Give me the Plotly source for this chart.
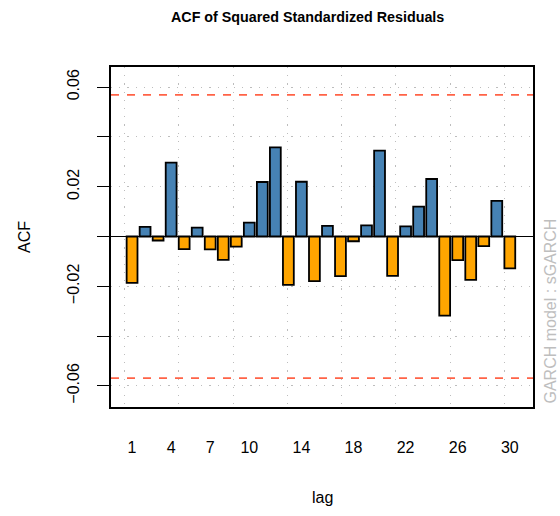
import plotly.graph_objects as go

lags = list(range(1, 31))
acf = [-0.0186, 0.0039, -0.0016, 0.0297, -0.0051, 0.0036, -0.0052, -0.0094, -0.0041, 0.0056,
       0.0219, 0.0358, -0.0194, 0.0220, -0.0179, 0.0043, -0.0159, -0.0019, 0.0045, 0.0345,
       -0.0158, 0.0041, 0.0120, 0.0231, -0.0318, -0.0095, -0.0174, -0.0039, 0.0143, -0.0128]
conf = 0.0569
x_labels = [1, 4, 7, 10, 14, 18, 22, 26, 30]
y_ticks = [-0.06, -0.04, -0.02, 0.0, 0.02, 0.04, 0.06]
y_text = ["\u22120.06", "", "\u22120.02", "", "0.02", "", "0.06"]
title = "ACF of Squared Standardized Residuals"
side_text = "GARCH model : sGARCH"

FONT = "Liberation Sans, Arial, sans-serif"
xr = [-0.617, 31.78]
yr = [-0.0685, 0.0681]
# R barplot grid positions (every 5 barplot units -> lag units)
grid_x = [(b - 0.7) / 1.2 + 1 for b in range(0, 40, 5)]
GRID = "#bdbdbd"
GDASH = "1.2px,7px"

colors = ["steelblue" if v > 0 else "orange" for v in acf]

fig = go.Figure()
fig.add_trace(go.Bar(x=lags, y=acf, marker=dict(color=colors, line=dict(color="black", width=1.8)),
                     width=0.833, showlegend=False))
for s in (1, -1):
    fig.add_trace(go.Scatter(x=xr, y=[s * conf, s * conf], mode="lines",
                             line=dict(color="tomato", dash="8px,8px", width=1.8), showlegend=False))
fig.add_trace(go.Scatter(x=xr, y=[0, 0], mode="lines", line=dict(color="black", width=1.2), showlegend=False))
# invisible trace for grid axis
fig.add_trace(go.Scatter(x=xr, y=[0, 0], xaxis="x2", mode="lines", line=dict(width=0),
                         opacity=0, showlegend=False, hoverinfo="skip"))

fig.update_layout(
    width=560, height=516,
    margin=dict(l=111, r=27, t=67, b=109),
    plot_bgcolor="white", paper_bgcolor="white",
    font=dict(family=FONT, color="black", size=16),
    xaxis=dict(range=xr, tickvals=x_labels, ticktext=[str(v) for v in x_labels],
               showgrid=False, zeroline=False, showline=True, linecolor="black", linewidth=1.5,
               mirror=True, ticks="", ticklabelstandoff=25, tickfont=dict(size=16)),
    xaxis2=dict(range=xr, overlaying="x", anchor="y", tickvals=grid_x, showticklabels=False,
                showgrid=True, gridcolor=GRID, griddash=GDASH, gridwidth=1.2, ticks="",
                zeroline=False, showline=False, layer="above traces"),
    yaxis=dict(range=yr, tickvals=y_ticks, ticktext=y_text, tickangle=-90,
               showgrid=True, gridcolor=GRID, griddash=GDASH, gridwidth=1.2,
               zeroline=False, showline=True, linecolor="black", linewidth=1.5, mirror=True,
               ticks="outside", ticklen=12, tickwidth=1.3, tickcolor="black", ticklabelstandoff=12,
               layer="above traces", tickfont=dict(size=16)),
    bargap=0.17,
    annotations=[
        dict(text="<b>" + title + "</b>", xref="paper", yref="paper", x=(307 - 111) / 422,
             y=1 + (67 - 17) / 340,
             showarrow=False, font=dict(size=14.3), xanchor="center", yanchor="middle"),
        dict(text="ACF", xref="paper", yref="paper", x=(24 - 111) / 422, y=0.5, textangle=-90,
             showarrow=False, font=dict(size=16), xanchor="center", yanchor="middle"),
        dict(text="lag", xref="paper", yref="paper", x=0.5, y=(407 - 497) / 340,
             showarrow=False, font=dict(size=16), xanchor="center", yanchor="middle"),
        dict(text=side_text, xref="paper", yref="paper", x=1 + (550 - 533) / 422, y=(407 - 311.5) / 340,
             textangle=-90, showarrow=False, font=dict(size=16, color="#bebebe"),
             xanchor="center", yanchor="middle"),
    ],
)
fig.write_html("out.html", config={"displayModeBar": False},
               post_script="document.body.style.margin='0';")
